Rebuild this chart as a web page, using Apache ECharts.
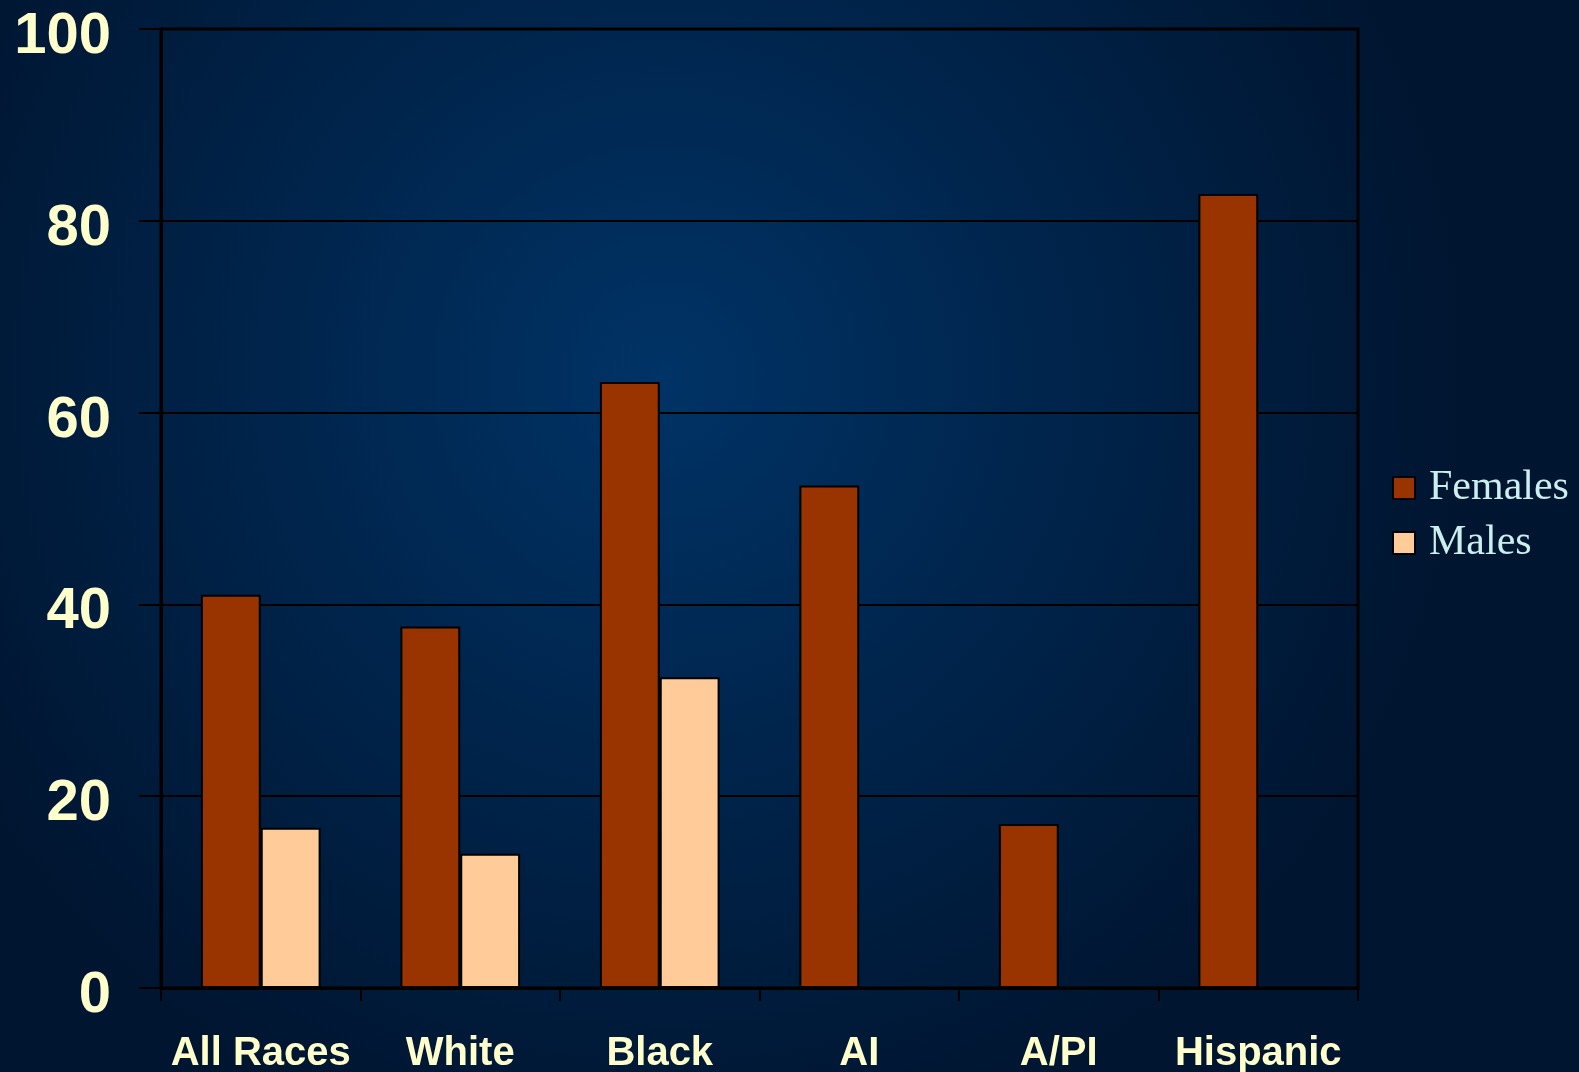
<!DOCTYPE html>
<html style="height: 100%">

<head>
    <meta charset="utf-8">
    <script src="https://cdn.jsdelivr.net/npm/echarts@6/dist/echarts.min.js"></script>
</head>

<body style="height: 100%; margin: 0">
    <div id="chart" style="width: 1579px; height: 1072px"></div>
    <script type="text/javascript">
        var categories = ['All Races', 'White', 'Black', 'AI', 'A/PI', 'Hispanic'];
        var females = [41.0, 37.7, 63.2, 52.4, 17.1, 82.8];
        var males = [16.7, 14.0, 32.4, null, null, null];

        var myChart = echarts.init(document.getElementById('chart'));
        myChart.setOption({
            animation: false,
            backgroundColor: {
                type: 'radial', x: 0.42, y: 0.35, r: 0.75,
                colorStops: [
                    { offset: 0, color: '#003366' },
                    { offset: 1, color: '#001530' }
                ]
            },
            grid: {
                left: 161, right: 221, top: 29, bottom: 84,
                outerBoundsMode: 'none',
                containLabel: false,
                show: true, borderColor: '#000', borderWidth: 3
            },
            legend: {
                orient: 'vertical',
                left: 1387,
                top: 462,
                itemWidth: 22,
                itemHeight: 22,
                itemGap: 13,
                icon: 'rect',
                itemStyle: { borderColor: '#000', borderWidth: 2 },
                textStyle: {
                    fontFamily: 'Liberation Serif',
                    fontSize: 42,
                    lineHeight: 42,
                    color: '#CCEEEE',
                    padding: [0, 0, 0, 9]
                },
                data: ['Females', 'Males']
            },
            xAxis: {
                type: 'category',
                data: categories,
                axisLine: { lineStyle: { color: '#000', width: 3 } },
                axisTick: { show: true, interval: 0, length: 13, lineStyle: { color: '#000', width: 2 } },
                axisLabel: {
                    interval: 0,
                    color: '#FFFFCC',
                    fontFamily: 'Liberation Sans',
                    fontWeight: 'bold',
                    fontSize: 40,
                    margin: 46
                }
            },
            yAxis: {
                type: 'value',
                min: 0,
                max: 100,
                interval: 20,
                axisLine: { show: true, lineStyle: { color: '#000', width: 3 } },
                axisTick: { show: true, length: 22, lineStyle: { color: '#000', width: 2 } },
                axisLabel: {
                    color: '#FFFFCC',
                    fontFamily: 'Liberation Sans',
                    fontWeight: 'bold',
                    fontSize: 58,
                    lineHeight: 16,
                    verticalAlign: 'top',
                    margin: 50
                },
                splitLine: { lineStyle: { color: '#000', width: 2 } }
            },
            series: [{
                name: 'Females',
                type: 'bar',
                data: females,
                barGap: '0%',
                barCategoryGap: '40%',
                itemStyle: { color: '#993300', borderColor: '#000', borderWidth: 2 }
            }, {
                name: 'Males',
                type: 'bar',
                data: males,
                itemStyle: { color: '#FFCC99', borderColor: '#000', borderWidth: 2 }
            }]
        });
    </script>
</body>

</html>
